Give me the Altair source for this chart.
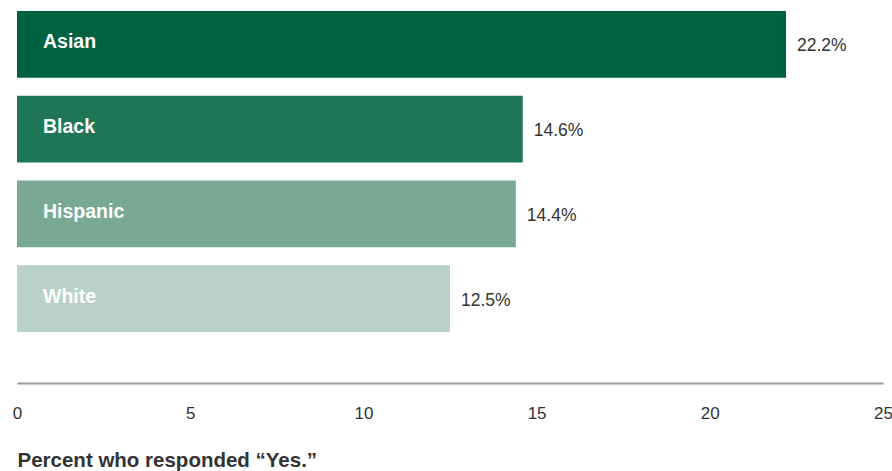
import altair as alt
import pandas as pd

groups = ["Asian", "Black", "Hispanic", "White"]
values = [22.2, 14.6, 14.4, 12.5]
colors = ["#006241", "#1f7656", "#79a893", "#b9d1c7"]
ticks = [0, 5, 10, 15, 20, 25]

df = pd.DataFrame({"group": groups, "value": values,
                   "label": [f"{v:.1f}%" for v in values]})

FONT = "Liberation Sans"

y = alt.Y("group:N", sort=groups, axis=None,
          scale=alt.Scale(range=[2, 341], paddingInner=0.21, paddingOuter=0.105))

bars = alt.Chart(df).mark_bar().encode(
    x=alt.X("value:Q",
            scale=alt.Scale(domain=[0, 25], nice=False, zero=True),
            axis=alt.Axis(values=ticks, ticks=False, grid=False, domainColor="#999999",
                          domainWidth=2, labelFont=FONT, labelFontSize=17,
                          labelColor="#333333", labelPadding=22, labelFlush=False,
                          labelOverlap=False,
                          title="Percent who responded “Yes.”",
                          titleFont=FONT, titleFontSize=20.5, titleFontWeight="bold",
                          titleColor="#333333", titleAnchor="start", titleAlign="left",
                          titleX=0, titleY=83, titleBaseline="alphabetic")),
    y=y,
    color=alt.Color("group:N", scale=alt.Scale(domain=groups, range=colors), legend=None),
)

names = alt.Chart(df).mark_text(align="left", baseline="middle", dx=26, dy=-2,
                                font=FONT, fontSize=19.5, fontWeight="bold",
                                color="white").encode(
    x=alt.datum(0), y=y, text="group:N")

vals = alt.Chart(df).mark_text(align="left", baseline="middle", dx=11, dy=2,
                               font=FONT, fontSize=17.5, color="#333333").encode(
    x="value:Q", y=y, text="label:N")

chart = (bars + names + vals).properties(
    width=866, height=383,
    autosize=alt.AutoSizeParams(type="none"),
    padding={"left": 17, "top": 0, "right": 9, "bottom": 88},
).configure_view(stroke=None)

chart.save("out.html", embed_options={"renderer": "svg", "actions": False})
